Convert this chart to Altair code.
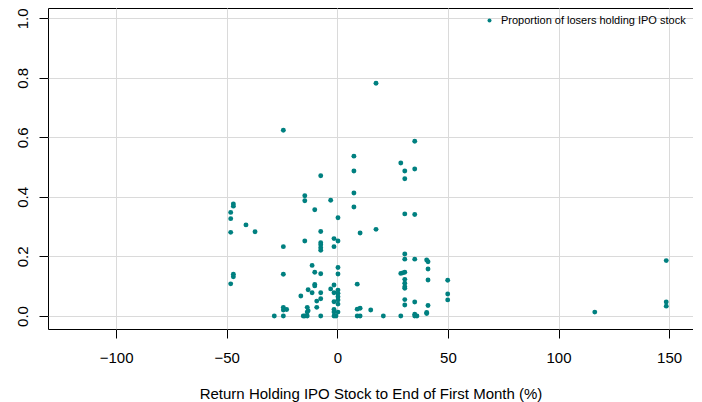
import altair as alt
import pandas as pd

# Return holding IPO stock to end of first month (%)
x_vals = [
    -48.2, -48.2, -48.2, -48.2,
    -47.0, -47.0, -47.0, -47.0,
    -41.3, -37.2, -28.5,
    -24.4, -24.4, -24.4, -24.4, -24.4, -24.4,
    -22.9, -16.5, -15.4,
    -14.7, -14.7, -14.7, -14.7,
    -13.6, -13.6, -13.6,
    -13.2, -13.2,
    -11.4, -11.4,
    -10.2, -10.2, -10.2, -10.2,
    -9.3, -9.3,
    -7.5, -7.5, -7.5, -7.5, -7.5, -7.5, -7.5, -7.5, -7.5, -7.5,
    -3.0, -3.0,
    -1.5, -1.5, -1.5, -1.5, -1.5, -1.5, -1.5, -1.5,
    -0.6,
    0.3, 0.3, 0.3, 0.3, 0.3, 0.3, 0.3, 0.3, 0.3, 0.3,
    7.5, 7.5, 7.5, 7.5,
    9.0, 9.0, 9.0,
    10.3, 10.3, 10.3,
    15.1, 17.5, 17.5, 20.8,
    28.7, 28.7, 28.7, 29.6,
    30.5, 30.5, 30.5, 30.5, 30.5, 30.5, 30.5, 30.5, 30.5, 30.5, 30.5, 30.5,
    35.0, 35.0, 35.0, 35.0, 35.0, 35.0, 35.0,
    36.0,
    40.4, 40.4, 40.4,
    41.0, 41.0, 41.0, 41.0,
    49.9, 49.9, 49.9,
    116.4,
    148.7, 148.7, 148.7,
]

# Proportion of losers holding IPO stock
y_vals = [
    0.348, 0.327, 0.281, 0.108,
    0.376, 0.369, 0.140, 0.132,
    0.306, 0.283, 0.0,
    0.624, 0.233, 0.140, 0.029, 0.020, 0.0,
    0.022, 0.067, 0.0,
    0.404, 0.387, 0.252, 0.0,
    0.029, 0.013, 0.0,
    0.088, 0.018,
    0.170, 0.078,
    0.357, 0.147, 0.106, 0.101,
    0.050, 0.029,
    0.471, 0.284, 0.246, 0.239, 0.229, 0.221, 0.142, 0.078, 0.058, 0.0,
    0.389, 0.091,
    0.260, 0.233, 0.104, 0.078, 0.048, 0.022, 0.013, 0.0,
    0.0,
    0.330, 0.252, 0.163, 0.141, 0.087, 0.076, 0.065, 0.054, 0.040, 0.013,
    0.537, 0.487, 0.413, 0.366,
    0.107, 0.023, 0.0,
    0.279, 0.026, 0.0,
    0.020, 0.782, 0.291, 0.0,
    0.514, 0.143, 0.0, 0.145,
    0.487, 0.461, 0.343, 0.208, 0.191, 0.147, 0.123, 0.110, 0.098, 0.093, 0.055, 0.037,
    0.587, 0.494, 0.341, 0.191, 0.047, 0.006, 0.0,
    0.0,
    0.188, 0.012, 0.008,
    0.182, 0.158, 0.121, 0.035,
    0.120, 0.074, 0.054,
    0.013,
    0.186, 0.047, 0.033,
]

series_name = "Proportion of losers holding IPO stock"
x_ticks = [-100, -50, 0, 50, 100, 150]
y_ticks = [0.0, 0.2, 0.4, 0.6, 0.8, 1.0]

df = pd.DataFrame({"ret": x_vals, "prop": y_vals, "series": series_name})

FONT = "Liberation Sans"

chart = (
    alt.Chart(df)
    .mark_circle(size=24, opacity=1)
    .encode(
        x=alt.X(
            "ret:Q",
            scale=alt.Scale(domain=[-130.8, 160.8], nice=False, zero=False),
            axis=alt.Axis(
                values=x_ticks,
                title="Return Holding IPO Stock to End of First Month (%)",
                labelFontSize=15,
                titleFontSize=15,
                titleFontWeight="normal",
                tickSize=9,
                labelPadding=24,
                labelBaseline="alphabetic",
                titleBaseline="alphabetic",
                titleY=69,
            ),
        ),
        y=alt.Y(
            "prop:Q",
            scale=alt.Scale(domain=[-0.0437, 1.0346], nice=False, zero=False),
            axis=alt.Axis(
                values=y_ticks,
                format=".1f",
                title=None,
                labelFontSize=15,
                labelAngle=270,
                labelAlign="center",
                labelBaseline="alphabetic",
                labelPadding=12,
                tickSize=9,
            ),
        ),
        color=alt.Color(
            "series:N",
            scale=alt.Scale(range=["#008080"]),
            legend=alt.Legend(
                title=None,
                orient="none",
                legendX=436,
                legendY=7,
                padding=0,
                labelFontSize=11,
                labelFont=FONT,
                labelColor="black",
                labelOffset=6,
                labelLimit=0,
                symbolSize=16,
                symbolType="circle",
                symbolStrokeWidth=0,
            ),
        ),
    )
    .properties(
        width=645,
        height=321,
        padding={"left": 40, "top": 0, "right": 0, "bottom": 73},
        autosize=alt.AutoSizeParams(type="none"),
    )
    .configure_view(stroke="black", strokeWidth=1)
    .configure_axis(
        domain=False,
        grid=True,
        gridColor="#DADADA",
        gridWidth=1,
        tickColor="black",
        labelColor="black",
        titleColor="black",
        labelFont=FONT,
        titleFont=FONT,
        labelFlush=False,
        labelOverlap=False,
    )
)

chart.save("out.html", embed_options={"renderer": "svg", "actions": False})
